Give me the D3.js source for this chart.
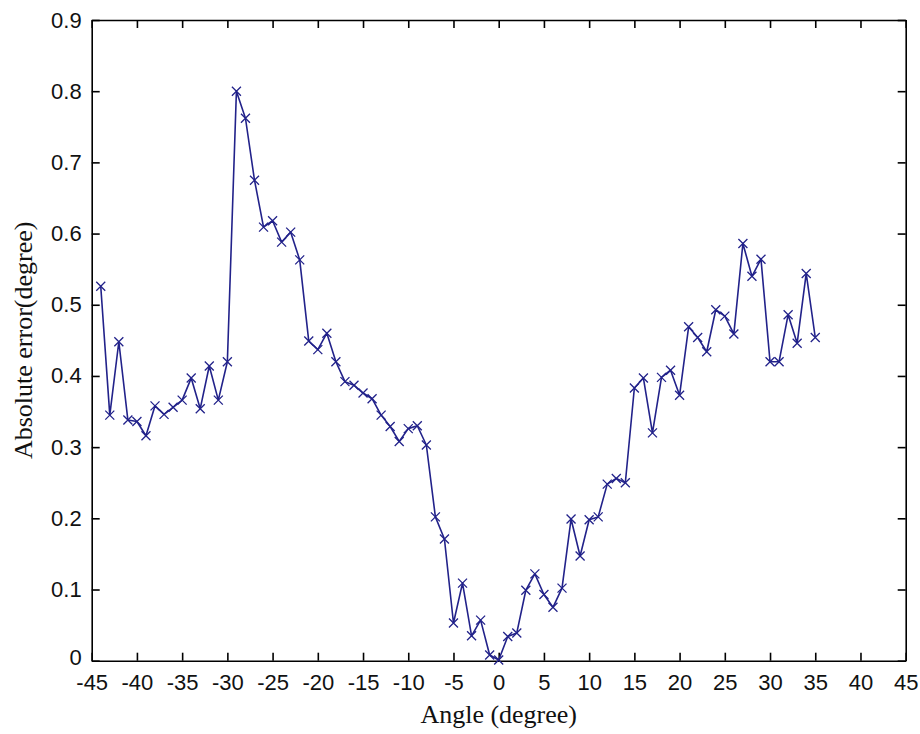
<!DOCTYPE html>
<html>
<head>
<meta charset="utf-8">
<script src="https://cdn.jsdelivr.net/npm/d3@7/dist/d3.min.js"></script>
<style>
  html, body { margin: 0; padding: 0; background: #ffffff; }
  svg { display: block; }
  .tick-label { font-family: "Liberation Sans", Arial, sans-serif; font-size: 22px; fill: #111; }
  .axis-title { font-family: "Liberation Serif", "Times New Roman", serif; font-size: 26px; fill: #111; }
</style>
</head>
<body>
<svg id="chart" width="920" height="734"></svg>
<script>
// Angle (degree) for each measurement
const angles = [
  -44, -43, -42, -41, -40, -39, -38, -37, -36, -35,
  -34, -33, -32, -31, -30, -29, -28, -27, -26, -25,
  -24, -23, -22, -21, -20, -19, -18, -17, -16, -15,
  -14, -13, -12, -11, -10, -9, -8, -7, -6, -5,
  -4, -3, -2, -1, 0, 1, 2, 3, 4, 5,
  6, 7, 8, 9, 10, 11, 12, 13, 14, 15,
  16, 17, 18, 19, 20, 21, 22, 23, 24, 25,
  26, 27, 28, 29, 30, 31, 32, 33, 34, 35
];

// Absolute error (degree) at each angle
const absError = [
  0.526, 0.345, 0.448, 0.338, 0.336, 0.316, 0.358, 0.346, 0.356, 0.366,
  0.397, 0.354, 0.414, 0.366, 0.420, 0.800, 0.762, 0.675, 0.609, 0.618,
  0.588, 0.602, 0.563, 0.449, 0.437, 0.460, 0.420, 0.392, 0.387, 0.376,
  0.368, 0.345, 0.329, 0.308, 0.326, 0.330, 0.303, 0.202, 0.171, 0.053,
  0.109, 0.035, 0.057, 0.008, 0.001, 0.034, 0.039, 0.099, 0.122, 0.093,
  0.075, 0.102, 0.199, 0.147, 0.198, 0.202, 0.248, 0.256, 0.250, 0.383,
  0.397, 0.320, 0.398, 0.408, 0.373, 0.469, 0.454, 0.434, 0.493, 0.484,
  0.459, 0.586, 0.540, 0.564, 0.420, 0.420, 0.486, 0.446, 0.544, 0.454
];

const xTicks = [-45, -40, -35, -30, -25, -20, -15, -10, -5, 0, 5, 10, 15, 20, 25, 30, 35, 40, 45];
const yTicks = [0, 0.1, 0.2, 0.3, 0.4, 0.5, 0.6, 0.7, 0.8, 0.9];

const xTitle = "Angle (degree)";
const yTitle = "Absolute error(degree)";

const W = 920, H = 734;
const margin = { left: 91.7, right: 14.3, top: 20, bottom: 73.3 };
const innerW = W - margin.left - margin.right;
const innerH = H - margin.top - margin.bottom;

const svg = d3.select("#chart");
const g = svg.append("g").attr("transform", `translate(${margin.left},${margin.top})`);

const x = d3.scaleLinear().domain([-45, 45]).range([0, innerW]);
const y = d3.scaleLinear().domain([0, 0.9]).range([innerH, 0]);

const tickLen = 8;
const lineColor = "#22228a";

// Plain hyphen-minus labels
const fmtX = d => String(d);
const fmtY = d => d === 0 ? "0" : d.toFixed(1);

const bottomAxis = d3.axisBottom(x).tickValues(xTicks).tickSizeInner(-tickLen).tickSizeOuter(0).tickPadding(14).tickFormat(fmtX);
const topAxis = d3.axisTop(x).tickValues(xTicks).tickSizeInner(-tickLen).tickSizeOuter(0).tickFormat("");
const leftAxis = d3.axisLeft(y).tickValues(yTicks).tickSizeInner(-tickLen).tickSizeOuter(0).tickPadding(10).tickFormat(fmtY);
const rightAxis = d3.axisRight(y).tickValues(yTicks).tickSizeInner(-tickLen).tickSizeOuter(0).tickFormat("");

function styleAxis(sel) {
  sel.select(".domain").attr("stroke", "#000").attr("stroke-width", 1.6);
  sel.selectAll(".tick line").attr("stroke", "#000").attr("stroke-width", 1.6);
  sel.selectAll(".tick text").attr("class", "tick-label").attr("font-family", null).attr("font-size", null);
  sel.attr("font-family", null).attr("font-size", null);
}

g.append("g").attr("transform", `translate(0,${innerH})`).call(bottomAxis).call(styleAxis);
g.append("g").call(topAxis).call(styleAxis);
const yAxisG = g.append("g").call(leftAxis).call(styleAxis);
g.append("g").attr("transform", `translate(${innerW},0)`).call(rightAxis).call(styleAxis);

// lift the origin label a little so it clears the first x label
yAxisG.selectAll(".tick text").filter(d => d === 0).attr("dy", "0.18em");

// Error curve
const pts = angles.map((a, i) => [a, absError[i]]);
const line = d3.line().x(d => x(d[0])).y(d => y(d[1]));

g.append("path")
  .datum(pts)
  .attr("fill", "none")
  .attr("stroke", lineColor)
  .attr("stroke-width", 1.6)
  .attr("stroke-linejoin", "round")
  .attr("d", line);

// 'x' markers at each sample
const m = 4.5;
g.append("g").selectAll("path.marker")
  .data(pts)
  .join("path")
  .attr("class", "marker")
  .attr("fill", "none")
  .attr("stroke", lineColor)
  .attr("stroke-width", 1.3)
  .attr("d", d => {
    const cx = x(d[0]), cy = y(d[1]);
    return `M${cx - m},${cy - m}L${cx + m},${cy + m}M${cx - m},${cy + m}L${cx + m},${cy - m}`;
  });

// Axis titles
svg.append("text")
  .attr("class", "axis-title")
  .attr("x", margin.left + innerW / 2)
  .attr("y", 723)
  .attr("text-anchor", "middle")
  .text(xTitle);

svg.append("text")
  .attr("class", "axis-title")
  .attr("transform", `translate(32,${margin.top + innerH / 2}) rotate(-90)`)
  .attr("text-anchor", "middle")
  .text(yTitle);
</script>
</body>
</html>
